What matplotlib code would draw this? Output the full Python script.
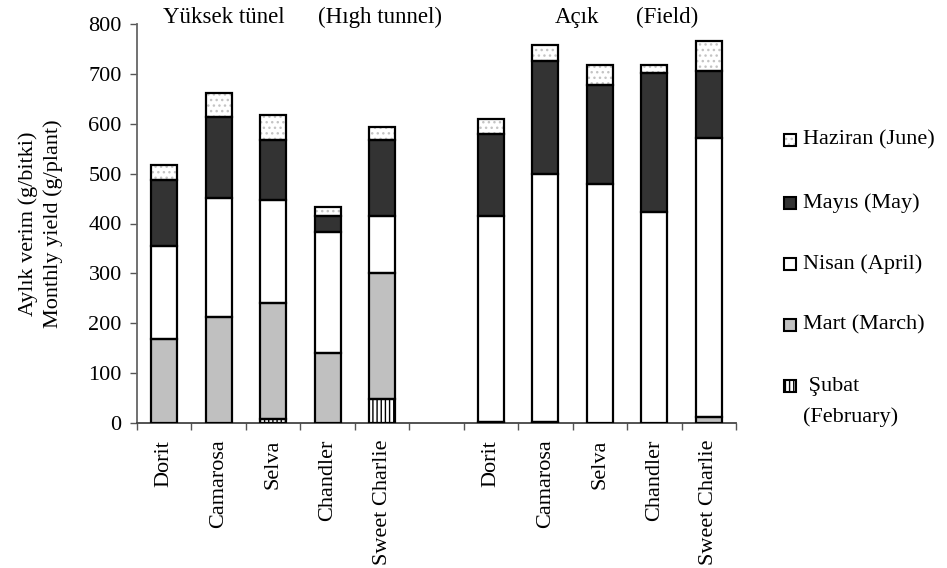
import matplotlib
matplotlib.use("Agg")
import matplotlib.pyplot as plt
from matplotlib.patches import Rectangle
import numpy as np

plt.rcParams['font.family'] = ['Liberation Serif', 'DejaVu Serif']
plt.rcParams['hatch.linewidth'] = 1.0

# Cultivars and monthly yields (g/plant)
cultivars = ["Dorit", "Camarosa", "Selva", "Chandler", "Sweet Charlie"]

tunnel_feb = [0, 0, 8, 0, 48]
tunnel_mar = [168, 213, 232, 140, 252]
tunnel_apr = [187, 238, 207, 243, 116]
tunnel_may = [133, 163, 121, 32, 151]
tunnel_jun = [29, 47, 49, 18, 26]

field_feb = [3, 3, 0, 0, 0]
field_mar = [0, 0, 0, 0, 12]
field_apr = [412, 497, 480, 424, 560]
field_may = [165, 225, 197, 277, 133]
field_jun = [29, 32, 40, 16, 60]

month_labels = ["Haziran (June)", "Mayıs (May)", "Nisan (April)",
                "Mart (March)", " Şubat\n(February)"]
group_titles = [("Yüksek tünel", "(Hıgh tunnel)"), ("Açık", "(Field)")]

FS = 16

# series styling: (fill colour, hatch, hatch colour)
styles = {
    "feb": ("white", "||||", "black"),
    "mar": ("#c0c0c0", None, "#c0c0c0"),
    "apr": ("white", None, "white"),
    "may": ("#333333", None, "#333333"),
    "jun": ("white", "...", "#c4c4c4"),
}

W, H = 947, 568
fig = plt.figure(figsize=(W / 100, H / 100), dpi=100)
ax = fig.add_axes([137 / W, 1 - 423 / H, (736 - 137) / W, (423 - 24) / H])

x_t = np.arange(5)
x_f = np.arange(6, 11)
x_all = np.concatenate([x_t, x_f])
labels_all = cultivars + cultivars

series = [
    ("feb", tunnel_feb + field_feb),
    ("mar", tunnel_mar + field_mar),
    ("apr", tunnel_apr + field_apr),
    ("may", tunnel_may + field_may),
    ("jun", tunnel_jun + field_jun),
]

bw = 0.48
bottom = np.zeros(len(x_all))
for key, vals in series:
    vals = np.array(vals, dtype=float)
    fc, hatch, hc = styles[key]
    ax.bar(x_all, vals, bw, bottom=bottom, color=fc, edgecolor=hc,
           hatch=hatch, linewidth=0, zorder=2)
    lw = np.where(vals > 0, 1.6, 0.0)
    ax.bar(x_all, vals, bw, bottom=bottom, fill=False, edgecolor="black",
           linewidth=lw, zorder=3)
    bottom += vals

ax.set_xlim(-0.5, 10.5)
ax.set_ylim(0, 800)
ax.set_yticks(np.arange(0, 801, 100))
ax.tick_params(axis="y", labelsize=FS, length=5, width=1, color="#555555", pad=6)

ax.set_xticks(x_all)
ax.set_xticklabels(labels_all, rotation=90, fontsize=FS, va="top", ha="center")
ax.tick_params(axis="x", which="major", length=0, pad=12)
ax.set_xticks(np.arange(-0.5, 11, 1.0), minor=True)
ax.tick_params(axis="x", which="minor", length=5, width=1, color="#555555")

for s in ["top", "right"]:
    ax.spines[s].set_visible(False)
ax.spines["left"].set_color("#666666")
ax.spines["bottom"].set_color("#444444")
ax.spines["left"].set_linewidth(1.3)
ax.spines["bottom"].set_linewidth(1.3)

ax.set_ylabel("Aylık verim (g/bitki)\nMonthly yield (g/plant)", fontsize=FS,
              linespacing=1.4, labelpad=18)

# group titles above the bars
title_x = [(-0.02, 2.82), (7.18, 8.66)]
tr = ax.get_xaxis_transform()
for (t1, t2), (xa, xb) in zip(group_titles, title_x):
    ax.text(xa, 1.016, t1, transform=tr, ha="left", va="center", fontsize=16.5,
            clip_on=False)
    ax.text(xb, 1.016, t2, transform=tr, ha="left", va="center", fontsize=16.5,
            clip_on=False)

# legend entries, top to bottom
leg_keys = ["jun", "may", "apr", "mar", "feb"]
leg_y = [140, 203, 264, 325, 386]
sq = 12
for key, lab, yc in zip(leg_keys, month_labels, leg_y):
    fc, hatch, hc = styles[key]
    x0 = 784 / W
    y0 = 1 - (yc + sq / 2) / H
    fig.patches.append(Rectangle((x0, y0), sq / W, sq / H, transform=fig.transFigure,
                                 facecolor=fc, edgecolor=hc, hatch=hatch,
                                 linewidth=0))
    fig.patches.append(Rectangle((x0, y0), sq / W, sq / H, transform=fig.transFigure,
                                 fill=False, edgecolor="black", linewidth=1.5))
    lines = lab.split("\n")
    for i, line in enumerate(lines):
        fig.text(803 / W, 1 - (yc + 31 * i) / H, line, ha="left", va="center",
                 fontsize=FS)

fig.savefig("out.png", dpi=100)
